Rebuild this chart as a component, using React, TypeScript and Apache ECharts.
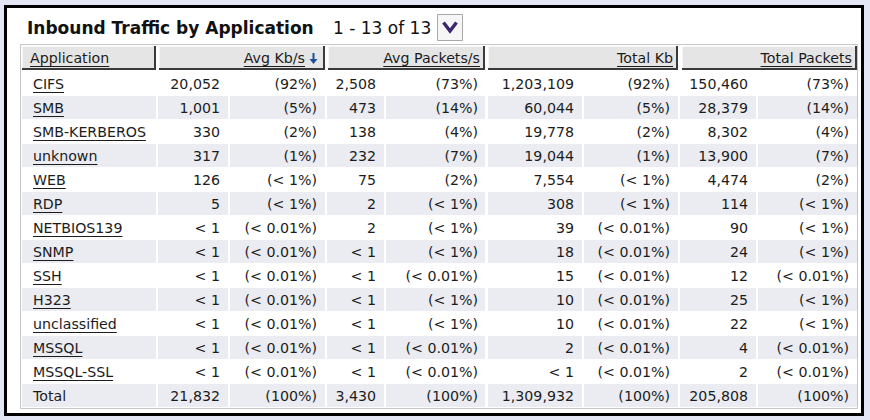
import React, { useEffect, useRef } from 'react';
import * as echarts from 'echarts';

const title = 'Inbound Traffic by Application';
const pageInfo = '1 - 13 of 13';
const headers = ['Application', 'Avg Kb/s', 'Avg Packets/s', 'Total Kb', 'Total Packets'];

const apps = ['CIFS', 'SMB', 'SMB-KERBEROS', 'unknown', 'WEB', 'RDP', 'NETBIOS139', 'SNMP', 'SSH', 'H323', 'unclassified', 'MSSQL', 'MSSQL-SSL'];
const avgKb = ['20,052', '1,001', '330', '317', '126', '5', '< 1', '< 1', '< 1', '< 1', '< 1', '< 1', '< 1'];
const avgKbPct = ['(92%)', '(5%)', '(2%)', '(1%)', '(< 1%)', '(< 1%)', '(< 0.01%)', '(< 0.01%)', '(< 0.01%)', '(< 0.01%)', '(< 0.01%)', '(< 0.01%)', '(< 0.01%)'];
const avgPkts = ['2,508', '473', '138', '232', '75', '2', '2', '< 1', '< 1', '< 1', '< 1', '< 1', '< 1'];
const avgPktsPct = ['(73%)', '(14%)', '(4%)', '(7%)', '(2%)', '(< 1%)', '(< 1%)', '(< 1%)', '(< 0.01%)', '(< 1%)', '(< 1%)', '(< 0.01%)', '(< 0.01%)'];
const totalKb = ['1,203,109', '60,044', '19,778', '19,044', '7,554', '308', '39', '18', '15', '10', '10', '2', '< 1'];
const totalKbPct = ['(92%)', '(5%)', '(2%)', '(1%)', '(< 1%)', '(< 1%)', '(< 0.01%)', '(< 0.01%)', '(< 0.01%)', '(< 0.01%)', '(< 0.01%)', '(< 0.01%)', '(< 0.01%)'];
const totalPkts = ['150,460', '28,379', '8,302', '13,900', '4,474', '114', '90', '24', '12', '25', '22', '4', '2'];
const totalPktsPct = ['(73%)', '(14%)', '(4%)', '(7%)', '(2%)', '(< 1%)', '(< 1%)', '(< 1%)', '(< 0.01%)', '(< 1%)', '(< 1%)', '(< 0.01%)', '(< 0.01%)'];
const totalRow = ['Total', '21,832', '(100%)', '3,430', '(100%)', '1,309,932', '(100%)', '205,808', '(100%)'];

const FONT_FAMILY = '"DejaVu Sans", Verdana, sans-serif';
const TABLE_FS = 14.2;
const TITLE_FS = 17;

function measure(text: string, font: string): number {
  const c = document.createElement('canvas');
  const ctx = c.getContext('2d');
  if (!ctx) return text.length * 8;
  ctx.font = font;
  return ctx.measureText(text).width;
}

function txt(text: string, x: number, y: number, align: string, opts: any = {}) {
  return {
    type: 'text',
    silent: true,
    x,
    y,
    style: {
      text,
      fill: opts.fill || '#1c1c1c',
      font: opts.font || `${TABLE_FS}px ${FONT_FAMILY}`,
      align,
      verticalAlign: 'middle',
      textAlign: align,
      textVerticalAlign: 'middle',
    },
  };
}

function line(x1: number, y1: number, x2: number, y2: number, stroke: string, lw = 1) {
  return { type: 'line', silent: true, shape: { x1, y1, x2, y2 }, style: { stroke, lineWidth: lw } };
}

function rect(x: number, y: number, w: number, h: number, fill: string, stroke?: string, lw = 1) {
  return { type: 'rect', silent: true, shape: { x, y, width: w, height: h }, style: { fill, stroke: stroke || null, lineWidth: lw } };
}

export default function App() {
  const ref = useRef<HTMLDivElement>(null);
  useEffect(() => {
    if (!ref.current) return;
    const chart = echarts.init(ref.current, null, { renderer: 'svg', width: 870, height: 420 });
    const tableFont = `${TABLE_FS}px ${FONT_FAMILY}`;
    const els: any[] = [];

    // page background
    els.push(rect(0, 0, 870, 420, '#e3e6f4'));
    // outer frame
    els.push(rect(5.5, 6.5, 857, 408, '#ffffff', '#000000', 3));
    // table border
    els.push(rect(20.5, 44.5, 837, 364, '#ffffff', '#c6c6c6', 1));

    // title
    els.push(txt(title, 27, 28, 'left', { font: `bold ${TITLE_FS}px ${FONT_FAMILY}`, fill: '#111111' }));
    els.push(txt(pageInfo, 333, 28, 'left', { font: `${TITLE_FS}px ${FONT_FAMILY}`, fill: '#111111' }));
    // dropdown button
    els.push(rect(437.5, 14.5, 25, 26, '#f6f6f6', '#a9a9a9', 1));
    els.push({
      type: 'polyline', silent: true,
      shape: { points: [[443.5, 22.5], [450, 31], [456.5, 22.5]] },
      style: { stroke: '#3b2770', lineWidth: 3.4, fill: null, lineJoin: 'miter' },
    });

    // header cells
    const headerCells = [[22, 156], [159, 325], [328, 485], [488, 678], [682, 857]];
    const hTop = 46, hBot = 70;
    headerCells.forEach(([a, b], i) => {
      els.push(rect(a, hTop, b - a, hBot - hTop, '#e5e5e5'));
      els.push(line(a, hTop + 0.5, b, hTop + 0.5, '#f7f7f7'));
      els.push(line(a + 0.5, hTop, a + 0.5, hBot, '#f7f7f7'));
      els.push(line(b - 1, hTop, b - 1, hBot, '#3a3a3a', 2));
      els.push(line(a, hBot - 1, b, hBot - 1, '#3a3a3a', 2));
      const label = headers[i];
      const w = measure(label, tableFont);
      const hy = 58;
      if (i === 0) {
        els.push(txt(label, 30, hy, 'left'));
        els.push(line(30, hy + 8.5, 30 + w, hy + 8.5, '#1c1c1c', 1));
      } else {
        const right = i === 1 ? b - 20 : b - 5;
        els.push(txt(label, right, hy, 'right'));
        els.push(line(right - w, hy + 8.5, right, hy + 8.5, '#1c1c1c', 1));
        if (i === 1) {
          // sort arrow
          const ax = b - 11.5;
          els.push(line(ax, 53, ax, 61, '#1f4f9a', 2));
          els.push({
            type: 'polygon', silent: true,
            shape: { points: [[ax - 4, 59], [ax + 4, 59], [ax, 64]] },
            style: { fill: '#1f4f9a' },
          });
        }
      }
    });

    // data rows
    const cols = [apps, avgKb, avgKbPct, avgPkts, avgPktsPct, totalKb, totalKbPct, totalPkts, totalPktsPct];
    const cells = [[22, 156], [158, 228], [230, 325], [327, 384], [386, 485], [488, 582], [584, 678], [680, 756], [758, 857]];
    const rights = [0, 220, 317, 376, 478, 574, 670, 748, 849];
    const rowH = 24, firstTop = 72;
    const nRows = apps.length + 1;
    for (let r = 0; r < nRows; r++) {
      const top = firstTop + r * rowH;
      const cy = top + 12;
      const shaded = r % 2 === 1;
      if (shaded) {
        cells.forEach(([a, b]) => els.push(rect(a, top, b - a, rowH - 1, '#eaecf2')));
      }
      const isTotal = r === apps.length;
      for (let c = 0; c < cols.length; c++) {
        const val = isTotal ? totalRow[c] : cols[c][r];
        if (c === 0) {
          els.push(txt(val, 33, cy, 'left'));
          if (!isTotal) {
            const w = measure(val, tableFont);
            els.push(line(33, cy + 8.5, 33 + w, cy + 8.5, '#1c1c1c', 1));
          }
        } else {
          els.push(txt(val, rights[c], cy, 'right'));
        }
      }
    }

    chart.setOption({ animation: false, graphic: { elements: els } });
    return () => chart.dispose();
  }, []);
  return <div ref={ref} style={{ position: 'absolute', left: 0, top: 0, width: 870, height: 420 }} />;
}
